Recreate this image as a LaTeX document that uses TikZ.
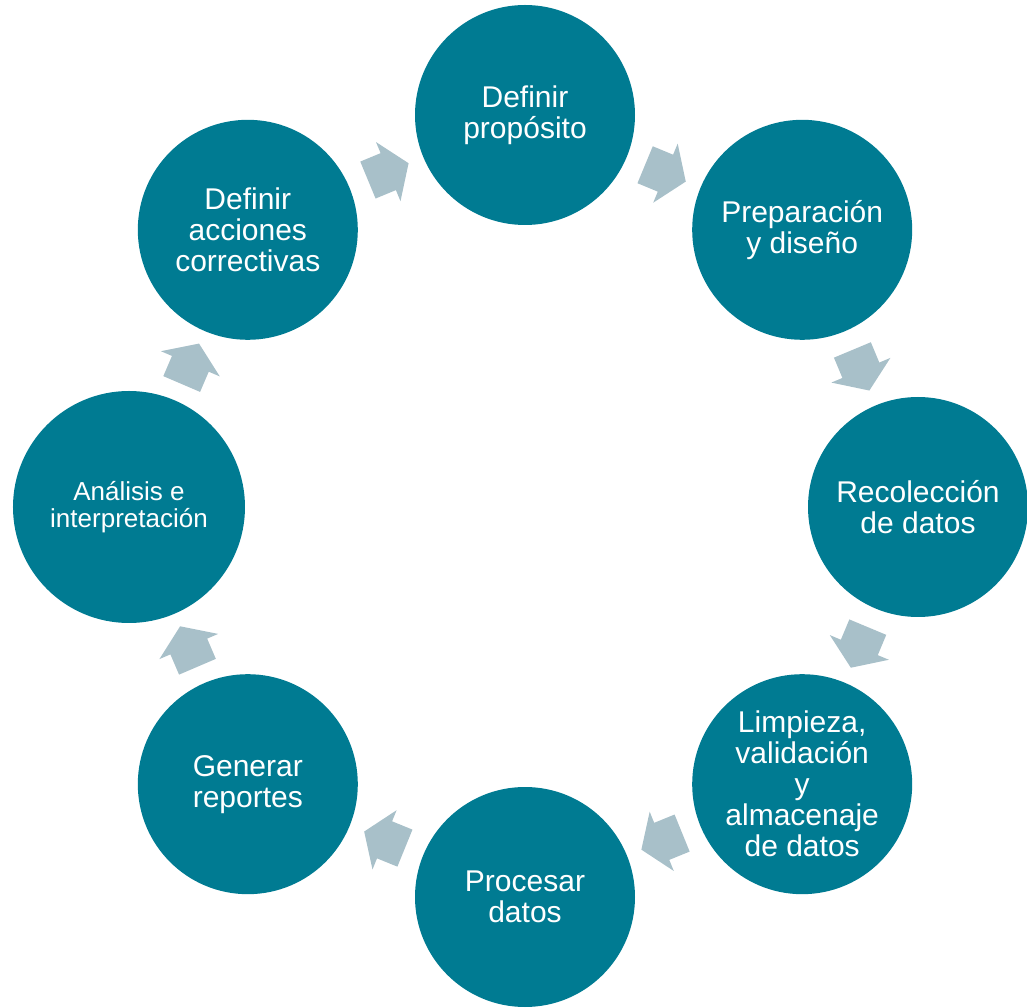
\documentclass[tikz,border=0pt]{standalone}
\usepackage{fontspec}
\setmainfont{Liberation Sans}

\definecolor{stagefill}{RGB}{0,123,146}
\definecolor{flowfill}{RGB}{168,192,201}

\tikzset{
  stage/.style={circle, fill=stagefill, text=white, minimum size=220pt, inner sep=0pt,
    align=center, font=\fontsize{30}{31}\selectfont},
  flowarrow/.pic={
    \fill[flowfill] (-20,-20) -- (2,-20) -- (2,-32) -- (24,0) -- (2,32) -- (2,20) -- (-20,20) -- cycle;
  }
}

\begin{document}
\begin{tikzpicture}[x=1pt,y=1pt]
  \useasboundingbox (-525,-501) rectangle (502,507);
  \node[stage] (p1) at (90:392) {Definir\\propósito};
  \node[stage] (p2) at (45:392) {Preparación\\y diseño};
  \node[stage] (p3) at (0:393) {Recolección\\de datos};
  \node[stage] (p4) at (-45:392) {Limpieza,\\validación\\y\\almacenaje\\de datos};
  \node[stage] (p5) at (-90:390) {Procesar\\datos};
  \node[stage] (p6) at (-135:392) {Generar\\reportes};
  \node[stage, minimum size=232pt, font=\fontsize{26}{27}\selectfont] (p7) at (180:396) {Análisis e\\interpretación};
  \node[stage] (p8) at (135:392) {Definir\\acciones\\correctivas};
  % block arrows between the stages
  \foreach \a/\b in {p8/p1, p1/p2, p2/p3, p3/p4, p4/p5, p5/p6, p6/p7, p7/p8}
    \path (\a) -- (\b) pic[midway, sloped, allow upside down] {flowarrow};
\end{tikzpicture}
\end{document}
